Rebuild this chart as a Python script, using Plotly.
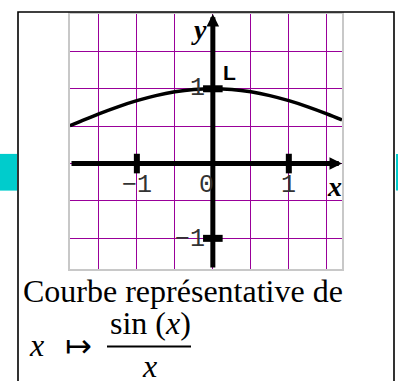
import plotly.graph_objects as go

# ---------------- data ----------------
curve_x = [-1.88, -1.75, -1.5, -1.25, -1.0, -0.75, -0.5, -0.25, 0.0,
           0.25, 0.5, 0.75, 1.0, 1.25, 1.5, 1.7]
curve_y = [0.507, 0.562, 0.665, 0.759, 0.841, 0.909, 0.959, 0.990, 1.0,
           0.990, 0.959, 0.909, 0.841, 0.759, 0.665, 0.583]
x_tick_vals = [-1, 1]
y_tick_vals = [-1, 1]
x_tick_labels = ["−1", "0", "1"]
x_tick_label_pos = [-1.0, -0.09, 0.99]
y_tick_labels = ["1", "−1"]
y_tick_label_pos = [1.0, -1.02]
x_range = [-1.88, 1.70]
y_range = [-1.41, 2.0]
caption_line1 = "Courbe représentative de"

# ---------------- geometry ----------------
W, H = 398, 381
PL, PR, PT, PB = 70, 342, 12, 269


def px(p):
    return (p - PL) / (PR - PL)


def py(p):
    return (PB - p) / (PB - PT)


PURPLE = "#990099"
CYAN = "#00CCCC"
GRAY = "#c8c8c8"

fig = go.Figure()

fig.add_trace(go.Scatter(x=curve_x, y=curve_y, mode="lines",
                         line=dict(color="black", width=3.5, shape="spline"),
                         hoverinfo="skip", showlegend=False))
fig.add_trace(go.Scatter(x=x_tick_vals, y=[0] * len(x_tick_vals), mode="markers",
                         marker=dict(symbol="line-ns", size=14, color="black",
                                     line=dict(color="black", width=6)),
                         hoverinfo="skip", showlegend=False))
fig.add_trace(go.Scatter(x=[0] * len(y_tick_vals), y=y_tick_vals, mode="markers",
                         marker=dict(symbol="line-ew", size=14, color="black",
                                     line=dict(color="black", width=7)),
                         hoverinfo="skip", showlegend=False))

annotations = []
# axes with arrowheads
annotations.append(dict(x=x_range[1], y=0, ax=x_range[0], ay=0, xref="x", yref="y",
                        axref="x", ayref="y", text="", showarrow=True, arrowhead=2,
                        arrowsize=0.5, arrowwidth=5, arrowcolor="black"))
annotations.append(dict(x=0, y=y_range[1], ax=0, ay=y_range[0], xref="x", yref="y",
                        axref="x", ayref="y", text="", showarrow=True, arrowhead=2,
                        arrowsize=0.5, arrowwidth=5, arrowcolor="black"))

mono = dict(family="Liberation Mono", size=25, color="#333333")
for lab, xv in zip(x_tick_labels, x_tick_label_pos):
    annotations.append(dict(x=xv, y=0, xref="x", yref="y", text=lab, showarrow=False,
                            xanchor="center", yanchor="middle", yshift=-22, font=mono))
annotations.append(dict(x=0, y=y_tick_label_pos[0], xref="x", yref="y", text=y_tick_labels[0],
                        showarrow=False, xanchor="center", yanchor="middle", xshift=-15.5,
                        font=mono))
annotations.append(dict(x=0, y=y_tick_label_pos[1], xref="x", yref="y", text=y_tick_labels[1],
                        showarrow=False, xanchor="center", yanchor="middle", xshift=-23,
                        font=mono))

# axis names and label L
annotations.append(dict(x=px(334.5), y=py(185.5), xref="paper", yref="paper",
                        text="<b><i>x</i></b>", showarrow=False, xanchor="center",
                        yanchor="middle", font=dict(family="Liberation Serif", size=28,
                                                    color="black")))
annotations.append(dict(x=px(198.5), y=py(28), xref="paper", yref="paper",
                        text="<b><i>y</i></b>", showarrow=False, xanchor="center",
                        yanchor="middle", font=dict(family="Liberation Serif", size=28,
                                                    color="black")))
annotations.append(dict(x=px(229.5), y=py(70.5), xref="paper", yref="paper",
                        text="<b>L</b>", showarrow=False, xanchor="center",
                        yanchor="middle", font=dict(family="Liberation Sans", size=21,
                                                    color="black")))

serif = dict(family="Liberation Serif", size=32, color="black")
annotations.append(dict(x=px(21), y=py(291), xref="paper", yref="paper",
                        text=caption_line1, showarrow=False, xanchor="left",
                        yanchor="middle", font=serif))
annotations.append(dict(x=px(36.5), y=py(346), xref="paper", yref="paper",
                        text="<i>x</i>", showarrow=False, xanchor="center",
                        yanchor="middle", font=serif))
annotations.append(dict(x=px(78.5), y=py(347), xref="paper", yref="paper",
                        text="↦", showarrow=False, xanchor="center",
                        yanchor="middle", font=dict(family="DejaVu Sans", size=32,
                                                    color="black")))
annotations.append(dict(x=px(150), y=py(323), xref="paper", yref="paper",
                        text="sin (<i>x</i>)", showarrow=False, xanchor="center",
                        yanchor="middle", font=serif))
annotations.append(dict(x=px(149), y=py(367), xref="paper", yref="paper",
                        text="<i>x</i>", showarrow=False, xanchor="center",
                        yanchor="middle", font=serif))

shapes = [
    dict(type="rect", xref="paper", yref="paper", x0=px(-2), x1=px(17), y0=py(153),
         y1=py(190), fillcolor=CYAN, line=dict(width=0), layer="below"),
    dict(type="rect", xref="paper", yref="paper", x0=px(396), x1=px(400), y0=py(153),
         y1=py(190), fillcolor=CYAN, line=dict(width=0), layer="below"),
    dict(type="rect", xref="paper", yref="paper", x0=px(18), x1=px(394), y0=py(10),
         y1=py(400), line=dict(color="black", width=1.6), layer="above"),
    dict(type="line", xref="paper", yref="paper", x0=px(107), x1=px(191), y0=py(347),
         y1=py(347), line=dict(color="black", width=2)),
]

axis_common = dict(showticklabels=False, ticks="", zeroline=False, dtick=0.5, tick0=0,
                   gridcolor=PURPLE, gridwidth=1.2, showline=True, mirror=True,
                   linecolor=GRAY, linewidth=1.5, fixedrange=True)

fig.update_layout(
    width=W, height=H,
    margin=dict(l=PL, r=W - PR, t=PT, b=H - PB),
    paper_bgcolor="white", plot_bgcolor="white",
    xaxis=dict(range=x_range, **axis_common),
    yaxis=dict(range=y_range, **axis_common),
    annotations=annotations, shapes=shapes, showlegend=False,
)

fig.write_html("out.html", config={"displayModeBar": False},
               post_script="document.body.style.margin='0px';"
                           "document.body.style.padding='0px';"
                           "document.body.style.overflow='hidden';")
